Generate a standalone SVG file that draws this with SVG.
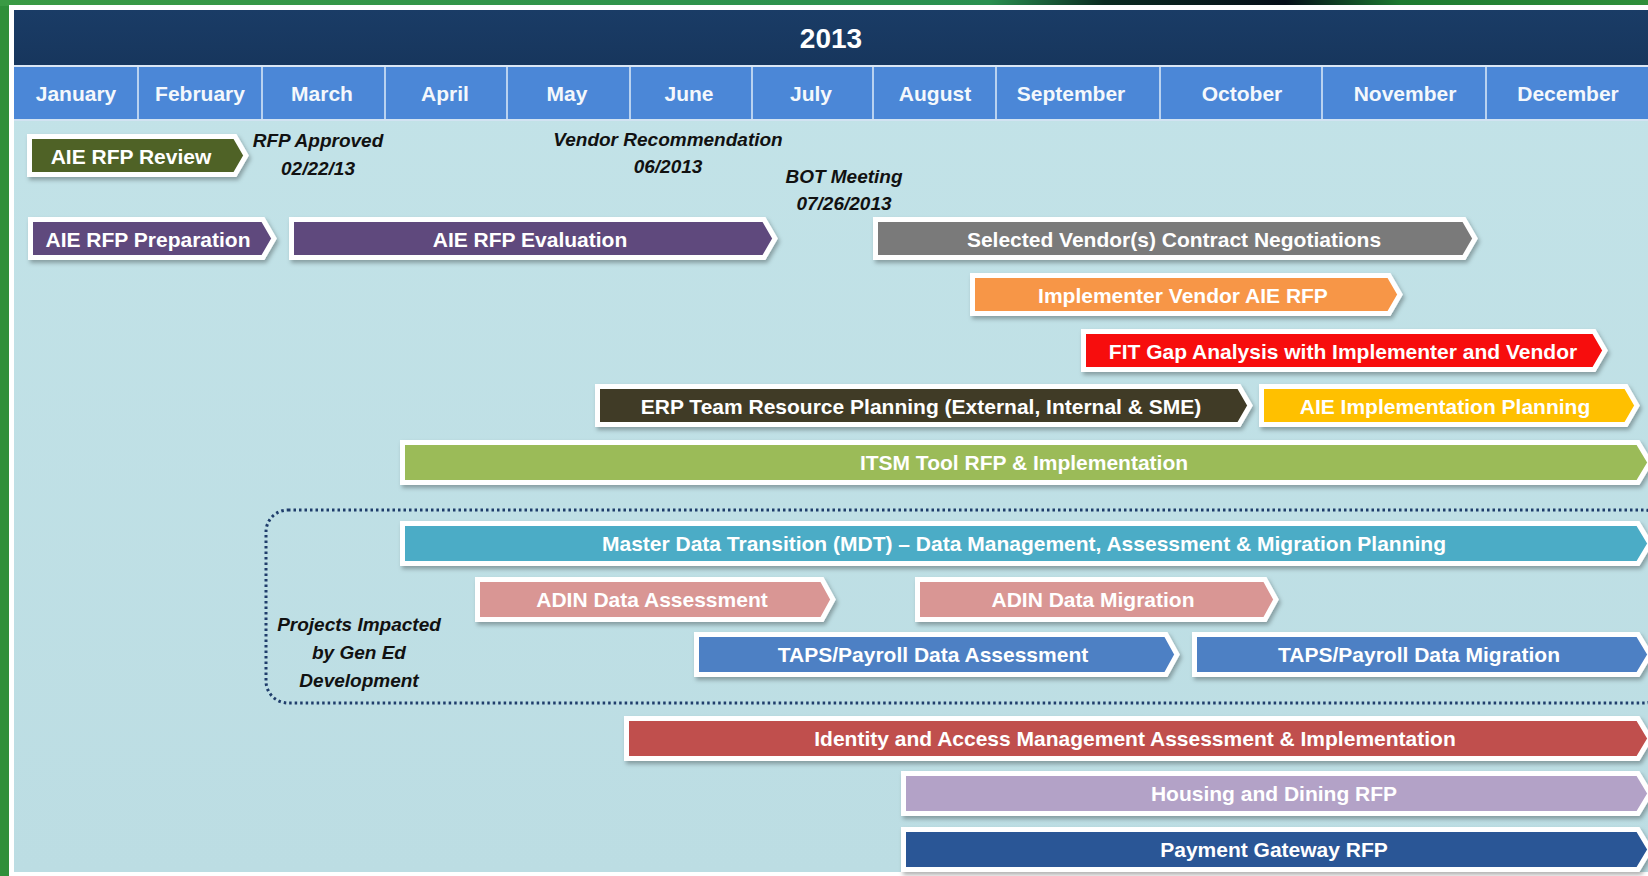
<svg xmlns="http://www.w3.org/2000/svg" width="1648" height="876" viewBox="0 0 1648 876">
<defs>
<linearGradient id="topg" x1="0" y1="0" x2="1" y2="0">
<stop offset="0" stop-color="#3a9a44"/>
<stop offset="0.6" stop-color="#2a9050"/>
<stop offset="0.67" stop-color="#0a2a20"/>
<stop offset="0.78" stop-color="#050d18"/>
<stop offset="0.85" stop-color="#1e7a30"/>
<stop offset="1" stop-color="#2f8f3a"/>
</linearGradient>
<linearGradient id="bgg" x1="0" y1="0" x2="0" y2="1">
<stop offset="0" stop-color="#c3e3e8"/>
<stop offset="1" stop-color="#bcdde3"/>
</linearGradient>
<linearGradient id="navy" x1="0" y1="0" x2="0" y2="1">
<stop offset="0" stop-color="#1a3c66"/>
<stop offset="1" stop-color="#17365d"/>
</linearGradient>
<filter id="sh" x="-5%" y="-30%" width="110%" height="170%">
<feDropShadow dx="2" dy="3" stdDeviation="2" flood-color="#000" flood-opacity="0.3"/>
</filter>
<style>
.bar{stroke:#fff;stroke-width:5;stroke-linejoin:miter;filter:url(#sh)}
.bt{font-family:"Liberation Sans",Arial,sans-serif;font-weight:700;font-size:21px;fill:#fff;text-anchor:middle;dominant-baseline:central}
.mt{font-family:"Liberation Sans",Arial,sans-serif;font-weight:700;font-size:21px;fill:#f4f8fc;text-anchor:middle;dominant-baseline:central}
.lb{font-family:"Liberation Sans",Arial,sans-serif;font-weight:700;font-style:italic;font-size:19px;fill:#111;text-anchor:middle;dominant-baseline:central}
.div{stroke:#b9d2f0;stroke-width:2}
</style>
</defs>

<!-- backdrop -->
<rect x="0" y="0" width="1648" height="876" fill="#2f8f3a"/>
<rect x="0" y="0" width="1648" height="6" fill="url(#topg)"/>
<rect x="9" y="5" width="1645" height="871" fill="#ffffff"/>
<rect x="14" y="10" width="1640" height="862" fill="url(#bgg)"/>

<!-- header -->
<g id="header">
<rect x="14" y="10" width="1640" height="55" fill="url(#navy)"/>
<text class="bt" x="831" y="38" style="font-size:28px">2013</text>
</g>

<g id="months">
<rect x="14" y="65" width="1640" height="2" fill="#dbe7f5"/>
<rect x="14" y="67" width="1640" height="52" fill="#4b87d7"/>
<rect x="14" y="119" width="1640" height="2" fill="#d2e3f2"/>
<line class="div" x1="138" y1="67" x2="138" y2="119"/>
<line class="div" x1="262" y1="67" x2="262" y2="119"/>
<line class="div" x1="385" y1="67" x2="385" y2="119"/>
<line class="div" x1="507" y1="67" x2="507" y2="119"/>
<line class="div" x1="630" y1="67" x2="630" y2="119"/>
<line class="div" x1="752" y1="67" x2="752" y2="119"/>
<line class="div" x1="873" y1="67" x2="873" y2="119"/>
<line class="div" x1="996" y1="67" x2="996" y2="119"/>
<line class="div" x1="1160" y1="67" x2="1160" y2="119"/>
<line class="div" x1="1322" y1="67" x2="1322" y2="119"/>
<line class="div" x1="1486" y1="67" x2="1486" y2="119"/>
<text class="mt" x="76" y="93">January</text>
<text class="mt" x="200" y="93">February</text>
<text class="mt" x="322" y="93">March</text>
<text class="mt" x="445" y="93">April</text>
<text class="mt" x="567" y="93">May</text>
<text class="mt" x="689" y="93">June</text>
<text class="mt" x="811" y="93">July</text>
<text class="mt" x="935" y="93">August</text>
<text class="mt" x="1071" y="93">September</text>
<text class="mt" x="1242" y="93">October</text>
<text class="mt" x="1405" y="93">November</text>
<text class="mt" x="1568" y="93">December</text>
</g>

<!-- milestone labels -->
<g id="milestones">
<text class="lb" x="318" y="140">RFP Approved</text>
<text class="lb" x="318" y="168">02/22/13</text>
<text class="lb" x="668" y="139">Vendor Recommendation</text>
<text class="lb" x="668" y="166">06/2013</text>
<text class="lb" x="844" y="176">BOT Meeting</text>
<text class="lb" x="844" y="203">07/26/2013</text>
</g>

<!-- group frame -->
<g id="connectors">
<rect x="266" y="510" width="1400" height="193" rx="22" ry="22" fill="none" stroke="#1f3d6b" stroke-width="3" stroke-dasharray="2.5 3"/>
</g>
<g id="group-label">
<text class="lb" x="359" y="624">Projects Impacted</text>
<text class="lb" x="359" y="652">by Gen Ed</text>
<text class="lb" x="359" y="680">Development</text>
</g>

<!-- bars -->
<g id="b-review"><path class="bar" fill="#4f6228" d="M29.5,136.5 H235 L246,155.5 L235,174.5 H29.5 Z"/><text class="bt" x="131" y="156">AIE RFP Review</text></g>
<g id="b-prep"><path class="bar" fill="#5e4a7d" d="M30.5,219.5 H263 L274,238.5 L263,257.5 H30.5 Z"/><text class="bt" x="148" y="239">AIE RFP Preparation</text></g>
<g id="b-eval"><path class="bar" fill="#5e4a7d" d="M291.5,219.5 H764 L775,238.5 L764,257.5 H291.5 Z"/><text class="bt" x="530" y="239">AIE RFP Evaluation</text></g>
<g id="b-neg"><path class="bar" fill="#7a7a7a" d="M875.5,219.5 H1464 L1475,238.5 L1464,257.5 H875.5 Z"/><text class="bt" x="1174" y="239">Selected Vendor(s) Contract Negotiations</text></g>
<g id="b-impl"><path class="bar" fill="#f79646" d="M972.5,275.5 H1389 L1400,294.5 L1389,313.5 H972.5 Z"/><text class="bt" x="1183" y="295">Implementer Vendor AIE RFP</text></g>
<g id="b-fit"><path class="bar" fill="#f70a0a" d="M1083.5,331.5 H1594 L1605,350.5 L1594,369.5 H1083.5 Z"/><text class="bt" x="1343" y="351">FIT Gap Analysis with Implementer and Vendor</text></g>
<g id="b-erp"><path class="bar" fill="#3f3b27" d="M597.5,386.5 H1239 L1250,405.5 L1239,424.5 H597.5 Z"/><text class="bt" x="921" y="406">ERP Team Resource Planning (External, Internal &amp; SME)</text></g>
<g id="b-aieplan"><path class="bar" fill="#ffc000" d="M1261.5,386.5 H1626 L1637,405.5 L1626,424.5 H1261.5 Z"/><text class="bt" x="1445" y="406">AIE Implementation Planning</text></g>
<g id="b-itsm"><path class="bar" fill="#9bbb59" d="M402.5,442.5 H1638 L1650,462.5 L1638,482.5 H402.5 Z"/><text class="bt" x="1024" y="462">ITSM Tool RFP &amp; Implementation</text></g>
<g id="b-mdt"><path class="bar" fill="#4bacc6" d="M402.5,523.5 H1638 L1650,543.5 L1638,563.5 H402.5 Z"/><text class="bt" x="1024" y="543">Master Data Transition (MDT) – Data Management, Assessment  &amp; Migration Planning</text></g>
<g id="b-adin-a"><path class="bar" fill="#d99694" d="M477.5,579.5 H822 L833,599.5 L822,619.5 H477.5 Z"/><text class="bt" x="652" y="599">ADIN Data Assessment</text></g>
<g id="b-adin-m"><path class="bar" fill="#d99694" d="M917.5,579.5 H1265 L1276,599.5 L1265,619.5 H917.5 Z"/><text class="bt" x="1093" y="599">ADIN Data Migration</text></g>
<g id="b-taps-a"><path class="bar" fill="#4e80c4" d="M696.5,634.5 H1166 L1177,654.5 L1166,674.5 H696.5 Z"/><text class="bt" x="933" y="654">TAPS/Payroll Data Assessment</text></g>
<g id="b-taps-m"><path class="bar" fill="#4e80c4" d="M1194.5,634.5 H1638 L1650,654.5 L1638,674.5 H1194.5 Z"/><text class="bt" x="1419" y="654">TAPS/Payroll Data Migration</text></g>
<g id="b-iam"><path class="bar" fill="#c0504d" d="M626.5,718.5 H1638 L1650,738.5 L1638,758.5 H626.5 Z"/><text class="bt" x="1135" y="738">Identity and Access Management Assessment &amp; Implementation</text></g>
<g id="b-housing"><path class="bar" fill="#b3a2c7" d="M903.5,773.5 H1638 L1650,793.5 L1638,813.5 H903.5 Z"/><text class="bt" x="1274" y="793">Housing and Dining RFP</text></g>
<g id="b-pay"><path class="bar" fill="#2a5796" d="M903.5,829.5 H1638 L1650,849.5 L1638,869.5 H903.5 Z"/><text class="bt" x="1274" y="849">Payment Gateway RFP</text></g>
</svg>
